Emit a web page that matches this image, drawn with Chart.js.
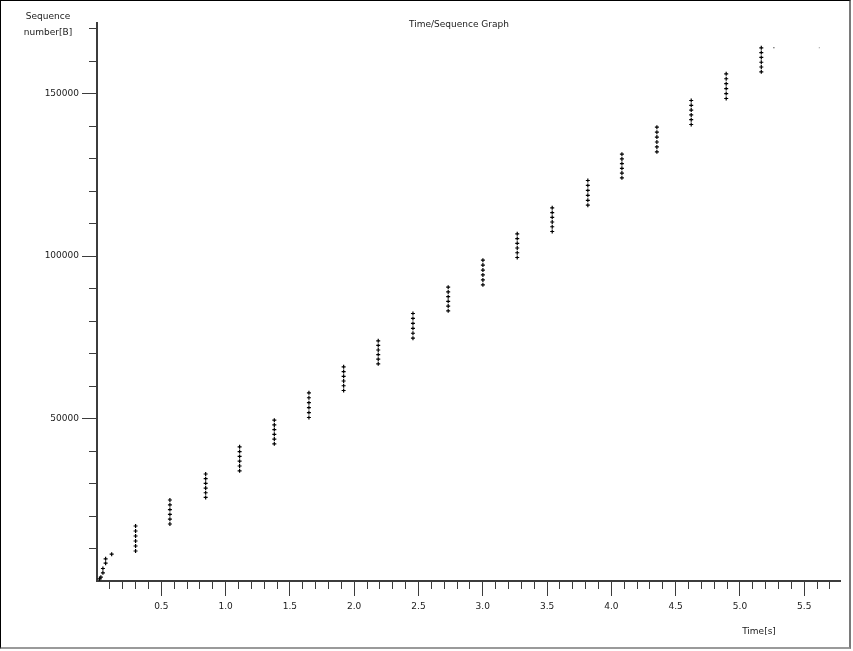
<!DOCTYPE html>
<html>
<head>
<meta charset="utf-8">
<title>Time/Sequence Graph</title>
<script src="https://cdn.jsdelivr.net/npm/chart.js@4/dist/chart.umd.min.js"></script>
<style>
  html, body { margin: 0; padding: 0; background: #fff; }
  #wrap { position: relative; width: 853px; height: 651px; overflow: hidden; }
  #seqChart { position: absolute; left: 0; top: 0; }
  #frame {
    position: absolute; left: 0; top: 0;
    width: 848px; height: 646px;
    border-top: 1px solid #000; border-left: 1px solid #000;
    border-right: 2px solid #7a7a7a; border-bottom: 2px solid #9a9a9a;
    pointer-events: none;
  }
</style>
</head>
<body>
<div id="wrap">
  <canvas id="seqChart" width="853" height="651"></canvas>
  <div id="frame"></div>
</div>
<script>
// --- data ---

// handshake / slow start segments near the origin
const startTimes = [0.020, 0.030, 0.046, 0.046, 0.067, 0.067, 0.114];
const startSeqs = [680, 1170, 2520, 3850, 5480, 6830, 8250];

// one entry per burst of six segments
const burstTimes = [0.300, 0.567, 0.845, 1.109, 1.379, 1.648, 1.918, 2.187, 2.457, 2.731,
                    3.001, 3.268, 3.540, 3.817, 4.082, 4.354, 4.621, 4.893, 5.166];
const burstSeqs = [
    [9230, 10770, 12310, 13850, 15380, 16920],
    [17540, 19020, 20500, 21970, 23450, 24920],
    [25720, 27160, 28600, 30040, 31480, 32920],
    [33910, 35390, 36860, 38340, 39820, 41290],
    [42220, 43670, 45120, 46580, 48030, 49480],
    [50310, 51830, 53350, 54870, 56390, 57910],
    [58620, 60080, 61540, 62990, 64450, 65910],
    [66830, 68250, 69660, 71080, 72490, 73910],
    [74710, 76230, 77750, 79270, 80790, 82310],
    [83140, 84590, 86050, 87500, 88950, 90400],
    [91140, 92650, 94170, 95680, 97200, 98710],
    [99540, 101000, 102460, 103920, 105380, 106830],
    [107540, 109000, 110460, 111910, 113370, 114830],
    [115630, 117150, 118670, 120190, 121710, 123230],
    [124070, 125520, 126970, 128430, 129880, 131330],
    [132060, 133580, 135090, 136610, 138120, 139630],
    [140470, 141940, 143420, 144900, 146370, 147850],
    [148470, 149990, 151510, 153030, 154550, 156070],
    [156680, 158160, 159630, 161110, 162590, 164070]
];

// the two lone marks at the end of the transfer
const tailTimes = [5.264, 5.617];
const tailSeqs = [164070, 164070];

// axis ranges and ticks
const timeMax = 5.778;
const seqMax = 171700;
const timeMajorStep = 0.5;
const timeMinorStep = 0.1;
const seqMajorTicks = [50000, 100000, 150000];
const seqMinorStep = 10000;

// --- helpers ---
const FONT = 'DejaVu Sans, sans-serif';
const AXIS_COLOR = '#3c3c3c';
const TEXT_COLOR = '#1a1a1a';

const hideZero = (ctx) => (ctx.tick && ctx.tick.value === 0) ? 'rgba(0,0,0,0)' : AXIS_COLOR;

const startPoints = startTimes.map((t, i) => ({ x: t, y: startSeqs[i] }));
const burstPoints = [];
burstTimes.forEach((t, i) => {
    burstSeqs[i].forEach(s => burstPoints.push({ x: t, y: s }));
});
const tailPoints = tailTimes.map((t, i) => ({ x: t, y: tailSeqs[i] }));

// chart.js bends stepSize to fit a fixed max, so the y ticks are set by hand
function setMajorSeqTicks(scale) {
    scale.ticks = seqMajorTicks.map(v => ({ value: v }));
}
function setMinorSeqTicks(scale) {
    const ticks = [];
    for (let v = seqMinorStep; v < seqMax; v += seqMinorStep) ticks.push({ value: v });
    scale.ticks = ticks;
}

// captions placed where the old graph window drew them
const captionPlugin = {
    id: 'captions',
    afterDraw(chart) {
        const ctx = chart.ctx;
        ctx.save();
        ctx.fillStyle = TEXT_COLOR;
        ctx.font = '9px ' + FONT;
        ctx.textAlign = 'center';
        ctx.textBaseline = 'middle';
        ctx.fillText('Time/Sequence Graph', 459, 25);
        ctx.fillText('Sequence', 48, 17);
        ctx.fillText('number[B]', 48, 33);
        ctx.fillText('Time[s]', 759, 632);
        ctx.restore();
    }
};

const ctx = document.getElementById('seqChart');

new Chart(ctx, {
    type: 'scatter',
    data: {
        datasets: [
            {
                label: 'start', data: startPoints,
                pointStyle: 'cross', pointRadius: 2, pointBorderWidth: 1.2,
                borderColor: '#000', backgroundColor: '#000'
            },
            {
                label: 'bursts', data: burstPoints,
                pointStyle: 'cross', pointRadius: 2, pointBorderWidth: 1.2,
                borderColor: '#000', backgroundColor: '#000'
            },
            {
                label: 'tail', data: tailPoints,
                pointStyle: 'rect', pointRadius: 0.7, pointBorderWidth: 0,
                backgroundColor: ['#000', '#8a8a8a'], borderColor: ['#000', '#8a8a8a']
            }
        ]
    },
    options: {
        responsive: false,
        animation: false,
        layout: { padding: { left: 0, top: 23, right: 13, bottom: 0 } },
        plugins: {
            legend: { display: false },
            tooltip: { enabled: false },
            title: { display: false }
        },
        scales: {
            x: {
                type: 'linear', position: 'bottom',
                min: 0, max: timeMax,
                afterFit: (scale) => { scale.height = 70; },
                border: { display: true, color: AXIS_COLOR, width: 2 },
                grid: { drawOnChartArea: false, drawTicks: true, tickLength: 15, color: hideZero, lineWidth: 1 },
                ticks: {
                    stepSize: timeMajorStep, includeBounds: false, maxRotation: 0, autoSkip: false,
                    padding: 5, color: TEXT_COLOR, font: { family: FONT, size: 9 },
                    callback: (v) => v === 0 ? '' : v.toFixed(1)
                }
            },
            xMinor: {
                type: 'linear', axis: 'x', position: { y: 0 },
                min: 0, max: timeMax,
                border: { display: false },
                grid: { drawOnChartArea: false, drawTicks: true, tickLength: 8, color: hideZero, lineWidth: 1 },
                ticks: { stepSize: timeMinorStep, includeBounds: false, autoSkip: false, display: false }
            },
            y: {
                type: 'linear', position: 'left',
                min: 0, max: seqMax,
                afterFit: (scale) => { scale.width = 97; },
                afterBuildTicks: setMajorSeqTicks,
                border: { display: true, color: AXIS_COLOR, width: 2 },
                grid: { drawOnChartArea: false, drawTicks: true, tickLength: 15, color: hideZero, lineWidth: 1 },
                ticks: {
                    autoSkip: false,
                    padding: 3, color: TEXT_COLOR, font: { family: FONT, size: 9 },
                    callback: (v) => String(v)
                }
            },
            yMinor: {
                type: 'linear', axis: 'y', position: { x: 0 },
                min: 0, max: seqMax,
                afterBuildTicks: setMinorSeqTicks,
                border: { display: false },
                grid: { drawOnChartArea: false, drawTicks: true, tickLength: 8, color: hideZero, lineWidth: 1 },
                ticks: { autoSkip: false, display: false }
            }
        }
    },
    plugins: [captionPlugin]
});
</script>
</body>
</html>
